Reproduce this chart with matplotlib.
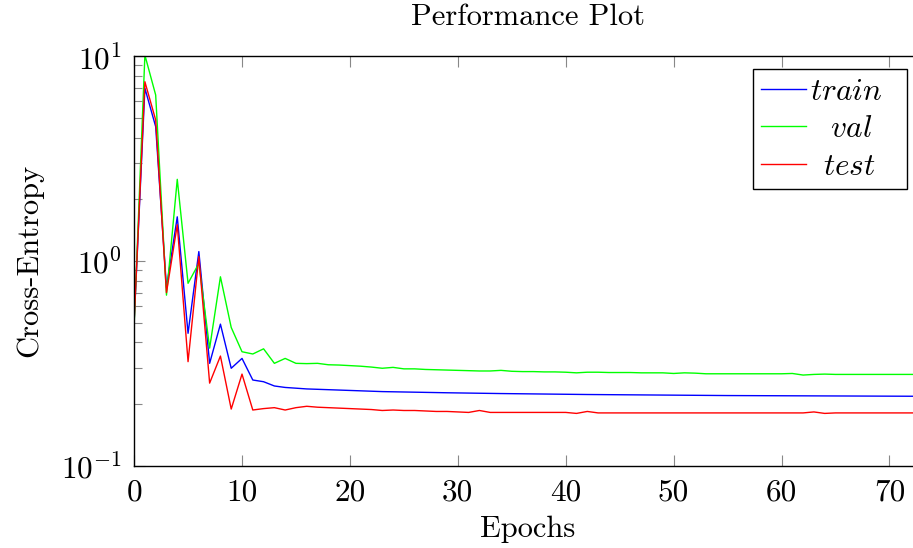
import matplotlib
matplotlib.use("Agg")
import matplotlib.pyplot as plt
import numpy as np

epochs = list(range(0, 74))

train = [0.50, 6.96, 4.52, 0.74, 1.64, 0.443, 1.11, 0.316, 0.491, 0.299,
         0.334, 0.262, 0.257, 0.245, 0.241, 0.239, 0.237, 0.236, 0.235, 0.234,
         0.233, 0.232, 0.231, 0.230, 0.2295, 0.229, 0.2285, 0.228, 0.2275, 0.227,
         0.2266, 0.2262, 0.2258, 0.2254, 0.225, 0.2247, 0.2244, 0.2241, 0.2238, 0.2235,
         0.2232, 0.2229, 0.2226, 0.2224, 0.2222, 0.222, 0.2218, 0.2216, 0.2214, 0.2212,
         0.221, 0.2208, 0.2206, 0.2204, 0.2202, 0.22, 0.2199, 0.2198, 0.2197, 0.2196,
         0.2195, 0.2194, 0.2193, 0.2192, 0.2191, 0.219, 0.2189, 0.2188, 0.2187, 0.2186,
         0.2185, 0.2184, 0.2183, 0.2182]

val = [0.48, 10.1, 6.45, 0.68, 2.50, 0.777, 0.972, 0.375, 0.836, 0.473,
       0.360, 0.351, 0.372, 0.316, 0.334, 0.316, 0.315, 0.316, 0.311, 0.310,
       0.308, 0.306, 0.303, 0.299, 0.302, 0.297, 0.297, 0.295, 0.294, 0.293,
       0.292, 0.291, 0.290, 0.290, 0.292, 0.289, 0.288, 0.288, 0.287, 0.287,
       0.286, 0.284, 0.286, 0.286, 0.285, 0.285, 0.285, 0.284, 0.284, 0.284,
       0.282, 0.284, 0.283, 0.281, 0.281, 0.281, 0.281, 0.281, 0.281, 0.281,
       0.281, 0.282, 0.277, 0.279, 0.280, 0.279, 0.279, 0.279, 0.279, 0.279,
       0.279, 0.279, 0.279, 0.279]

test = [0.50, 7.49, 4.87, 0.70, 1.50, 0.322, 1.05, 0.253, 0.343, 0.189,
        0.280, 0.187, 0.190, 0.192, 0.187, 0.192, 0.195, 0.193, 0.192, 0.191,
        0.190, 0.189, 0.188, 0.186, 0.187, 0.186, 0.186, 0.185, 0.184, 0.184,
        0.183, 0.182, 0.186, 0.182, 0.182, 0.182, 0.182, 0.182, 0.182, 0.182,
        0.182, 0.180, 0.184, 0.181, 0.181, 0.181, 0.181, 0.181, 0.181, 0.181,
        0.181, 0.181, 0.181, 0.181, 0.181, 0.181, 0.181, 0.181, 0.181, 0.181,
        0.181, 0.181, 0.181, 0.183, 0.180, 0.181, 0.181, 0.181, 0.181, 0.181,
        0.181, 0.181, 0.181, 0.181]

# legend labels (math italic, visually centred in the legend column)
series_names = [r"$train$", r"$\hspace{0.76}val$", r"$\hspace{0.48}test$"]
series_colors = ["#0000ff", "#00ff00", "#ff0000"]
xticks = [0, 10, 20, 30, 40, 50, 60, 70]

plt.rcParams["font.family"] = "serif"
plt.rcParams["font.serif"] = ["cmr10"]
plt.rcParams["mathtext.fontset"] = "cm"
plt.rcParams["axes.formatter.use_mathtext"] = True
plt.rcParams["axes.unicode_minus"] = True

FS = 22.5
W, H = 913, 548
fig = plt.figure(figsize=(W / 100, H / 100), dpi=100)
left_px, right_px, top_px, bot_px = 134.1, 921.8, 56.0, 465.7
ax = fig.add_axes([left_px / W, 1 - bot_px / H, (right_px - left_px) / W, (bot_px - top_px) / H])

for ys, name, c in zip([train, val, test], series_names, series_colors):
    ax.plot(epochs, ys, color=c, lw=1.0, label=name)

ax.set_yscale("log")
ax.set_ylim(0.1, 10)
ax.set_xlim(0, 73)
ax.set_xticks(xticks)
ax.set_xticklabels([str(t) for t in xticks])

for s in ax.spines.values():
    s.set_linewidth(1.0)
    s.set_color("black")

ax.tick_params(axis="both", which="major", direction="in", length=8, width=0.8,
               color="#888888", labelsize=FS, top=True, right=False, pad=9)
ax.tick_params(axis="y", which="minor", direction="in", length=5.5, width=0.8,
               color="#888888", left=True, right=False)
ax.tick_params(axis="x", which="minor", bottom=False, top=False)

ax.set_title("Performance Plot", fontsize=22, pad=22)
ax.set_xlabel("Epochs", fontsize=22, va="top")
ax.xaxis.set_label_coords(0.5, (465.7 - 516.0) / 409.7)
ax.set_ylabel("Cross-Entropy", fontsize=22)
ax.yaxis.set_label_coords((43.0 - 134.1) / 787.7, 0.5)

leg_left, leg_top, leg_w = 752.7, 69.3, 154.0
leg = ax.legend(loc="upper left", mode="expand",
                bbox_to_anchor=(leg_left / W, 1 - leg_top / H, leg_w / W, 0.0),
                bbox_transform=fig.transFigure, borderaxespad=0, fancybox=False,
                edgecolor="black", framealpha=1, fontsize=FS, handlelength=1.42,
                handletextpad=0.12, labelspacing=0.3, borderpad=0.28)
leg.get_frame().set_linewidth(1.0)

fig.savefig("out.png", dpi=100)
